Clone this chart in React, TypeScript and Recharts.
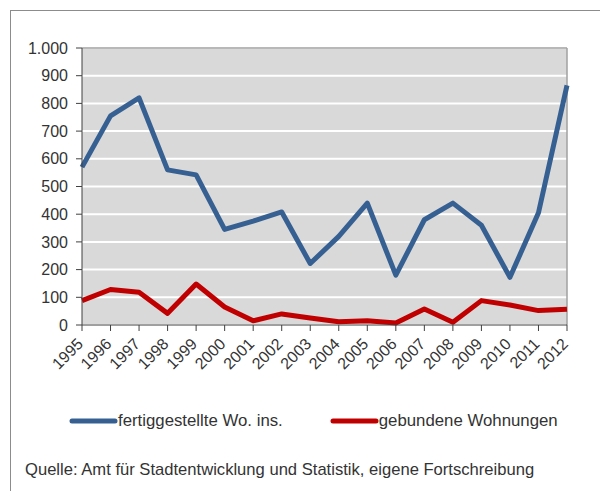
import { LineChart, Line, XAxis, YAxis, CartesianGrid, ReferenceLine, Legend } from 'recharts';

// Baufertigstellungen, Werte
const years = ['1995', '1996', '1997', '1998', '1999', '2000', '2001', '2002', '2003', '2004', '2005', '2006', '2007', '2008', '2009', '2010', '2011', '2012'];
const fertiggestellt = [570, 755, 820, 560, 542, 345, 375, 408, 222, 320, 440, 180, 380, 440, 360, 172, 405, 865];
const gebunden = [88, 128, 118, 42, 148, 65, 15, 40, 25, 12, 15, 7, 58, 10, 88, 72, 52, 57];
const yTicks = [0, 100, 200, 300, 400, 500, 600, 700, 800, 900, 1000];

const data = years.map((year, i) => ({
    year,
    fertig: fertiggestellt[i],
    gebunden: gebunden[i],
}));

const FONT = '"Liberation Sans", Arial, sans-serif';
const TEXT = '#333333';

const formatY = (v: number) => (v >= 1000 ? `${Math.floor(v / 1000)}.${String(v % 1000).padStart(3, '0')}` : String(v));

const YearTick = (props: any) => {
    const { x, y, payload } = props;
    const ax = x + 2;
    const ay = y + 12;
    return (
        <text
            x={ax}
            y={ay}
            textAnchor="end"
            fontSize={16}
            fontFamily={FONT}
            fill={TEXT}
            transform={`rotate(-45, ${ax}, ${ay})`}
        >
            {payload.value}
        </text>
    );
};

const renderLegend = (props: any) => {
    const { payload } = props;
    return (
        <div style={{ display: 'flex', alignItems: 'center', paddingLeft: 69, fontFamily: FONT, fontSize: 16.8, color: TEXT }}>
            {payload.map((entry: any, i: number) => (
                <div key={`leg-${i}`} style={{ display: 'flex', alignItems: 'center', marginRight: i === 0 ? 47 : 0 }}>
                    <svg width={49} height={8} style={{ display: 'block' }}>
                        <line x1={3} y1={4} x2={46} y2={4} stroke={entry.color} strokeWidth={5} strokeLinecap="round" />
                    </svg>
                    <span style={{ whiteSpace: 'nowrap' }}>{entry.value}</span>
                </div>
            ))}
        </div>
    );
};

const App = () => {
    return (
        <div style={{ position: 'absolute', left: 0, top: 0, width: 600, height: 491, background: '#fff', overflow: 'hidden' }}>
            <div
                style={{
                    position: 'absolute',
                    left: 10,
                    top: 10,
                    width: 600,
                    height: 491,
                    borderLeft: '1.5px solid #8c8c8c',
                    borderTop: '1.5px solid #8c8c8c',
                }}
            />
            <div style={{ position: 'absolute', left: 0, top: 0 }}>
                <LineChart width={600} height={491} data={data} margin={{ top: 48, right: 33, bottom: 126, left: 0 }}>
                    <CartesianGrid vertical={false} stroke="#ffffff" strokeWidth={2} fill="#d9d9d9" />
                    <XAxis
                        dataKey="year"
                        scale="point"
                        interval={0}
                        height={40}
                        tickSize={6}
                        axisLine={{ stroke: '#404040' }}
                        tickLine={{ stroke: '#404040' }}
                        tick={<YearTick />}
                    />
                    <YAxis
                        width={82}
                        domain={[0, 1000]}
                        ticks={yTicks}
                        interval={0}
                        tickSize={6}
                        tickMargin={8}
                        tickFormatter={formatY}
                        axisLine={{ stroke: '#404040' }}
                        tickLine={{ stroke: '#404040' }}
                        tick={{ fontSize: 16, fontFamily: FONT, fill: TEXT }}
                    />
                    <ReferenceLine y={1000} stroke="#a0a0a0" strokeWidth={1.5} />
                    <ReferenceLine x="2012" stroke="#a0a0a0" strokeWidth={1.5} />
                    <Line
                        type="linear"
                        dataKey="fertig"
                        name="fertiggestellte Wo. ins."
                        stroke="#366092"
                        strokeWidth={5}
                        strokeLinejoin="round"
                        dot={false}
                        isAnimationActive={false}
                    />
                    <Line
                        type="linear"
                        dataKey="gebunden"
                        name="gebundene Wohnungen"
                        stroke="#c00000"
                        strokeWidth={5}
                        strokeLinejoin="round"
                        dot={false}
                        isAnimationActive={false}
                    />
                    <Legend
                        layout="horizontal"
                        verticalAlign="middle"
                        align="center"
                        content={renderLegend}
                        wrapperStyle={{ top: 411, left: 0, width: 600 }}
                    />
                </LineChart>
            </div>
            <div
                style={{
                    position: 'absolute',
                    left: 25,
                    top: 460,
                    fontFamily: FONT,
                    fontSize: 16.6,
                    color: TEXT,
                    whiteSpace: 'nowrap',
                }}
            >
                Quelle: Amt für Stadtentwicklung und Statistik, eigene Fortschreibung
            </div>
        </div>
    );
};

export default App;
